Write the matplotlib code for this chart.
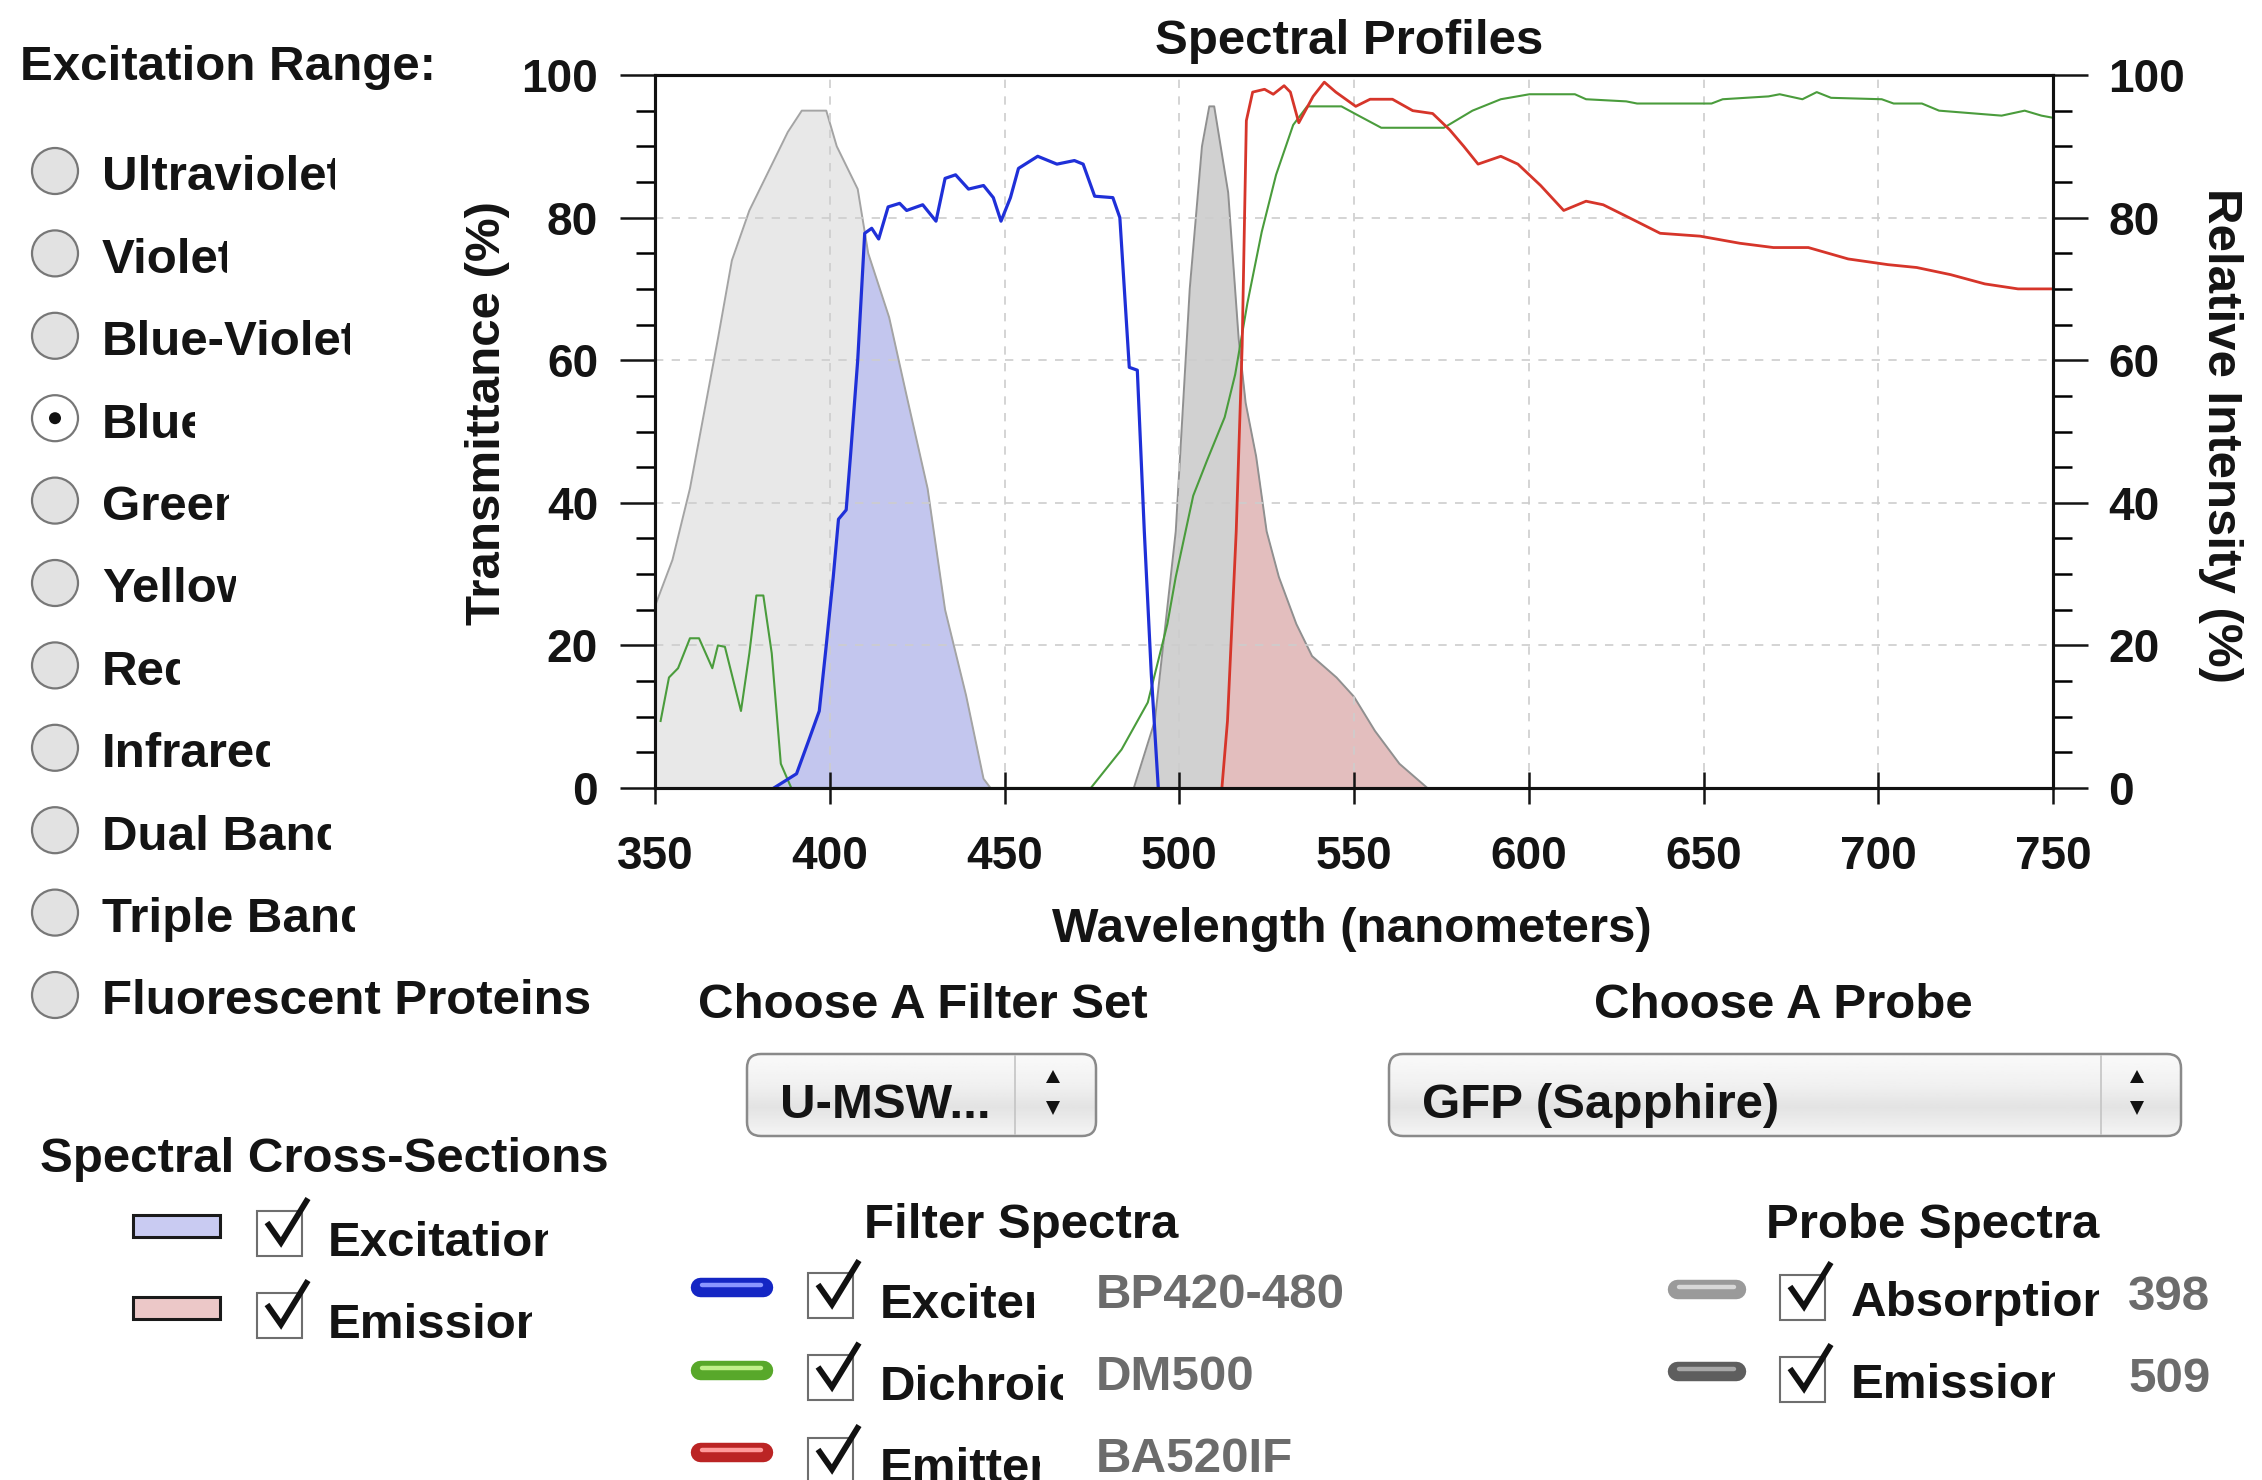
import numpy as np
import matplotlib
matplotlib.use('Agg')
import matplotlib.pyplot as plt
from matplotlib.patches import Circle, Rectangle, FancyBboxPatch, Polygon
from matplotlib.transforms import Bbox
from matplotlib.ticker import MultipleLocator

plt.rcParams['font.family'] = ['Liberation Sans', 'DejaVu Sans']
plt.rcParams['font.weight'] = 'bold'

# --- spectra (wavelength nm, percent) ---
abs_wl = [350, 355, 360, 364, 368, 372, 377, 383, 388, 392, 399, 402, 408, 411, 417,
          422, 428, 433, 439, 444, 446]
abs_val = [25.5, 32, 42, 52.5, 63, 74, 81, 87, 92, 95, 95, 90, 84, 75, 66,
           55, 42, 25, 13, 1.3, 0]

em_wl = [487, 493, 499, 503, 506.5, 508.6, 510, 514, 517, 519, 522, 525, 528.5, 533.5,
         538, 545, 550, 556, 563, 571]
em_val = [0, 9.4, 36, 70, 90, 95.6, 95.6, 83.5, 63, 54, 46.5, 36, 29.6, 23,
          18.5, 15.5, 12.8, 8, 3.4, 0]

ex_wl = [384, 390.5, 394, 397, 399, 401, 402.5, 404.7, 406, 408, 410, 412, 414, 416.7,
         420, 422, 426.6, 430.4, 433, 436, 439.7, 444, 446.8, 449, 451.7, 454, 459.5,
         465, 470, 472.5, 475.8, 481, 483, 485.7, 488, 490, 492, 494]
ex_val = [0, 2, 6.7, 10.8, 20, 29.6, 37.7, 39, 47, 60, 77.8, 78.5, 77, 81.5,
          82, 81, 81.8, 79.5, 85.5, 86, 84, 84.5, 82.8, 79.5, 82.8, 86.9, 88.6,
          87.5, 88, 87.5, 83, 82.8, 80, 59, 58.6, 36, 16, 0]

dm_wl = [351.6, 354, 356.6, 360, 362.6, 366.4, 368, 370, 374.6, 377, 379, 381, 383.4,
         386, 389, 474.7, 483.5, 491, 496.6, 499, 504, 508, 513, 516, 519.5, 523.6,
         527.7, 532.6, 536.6, 546.4, 551.3, 557.8, 575.7, 583.9, 592, 600.2, 613.2,
         616.4, 627.9, 631, 652.3, 655.5, 668.6, 671.8, 678.3, 682.4, 686.5, 701,
         704.4, 712.5, 717.4, 735.3, 741.9, 746.7, 750]
dm_val = [9.4, 15.5, 16.8, 21, 21, 16.8, 20, 19.8, 10.8, 18.9, 27, 27, 18.9,
          3.4, 0, 0, 5.4, 12, 23, 29.6, 41, 46, 52, 58, 68, 78,
          86, 93, 95.6, 95.6, 94.3, 92.6, 92.6, 95, 96.6, 97.3, 97.3,
          96.6, 96.3, 96, 96, 96.6, 97, 97.3, 96.6, 97.6, 96.8, 96.6,
          96, 96, 95, 94.3, 95, 94.3, 94]

ba_wl = [512.2, 513.8, 516.3, 518, 519.2, 521, 524.4, 526.9, 530, 531.8, 534.2, 538.3,
         541.5, 544.8, 550.5, 554.6, 561, 566.8, 572.5, 577.4, 581.4, 585.5, 592,
         596.9, 603.4, 610, 616.4, 621.3, 629.5, 637.6, 649, 660.4, 670, 680, 691.4,
         702.8, 711, 720.7, 730.5, 740, 750]
ba_val = [0, 9.4, 36, 62, 93.6, 97.6, 98, 97.3, 98.5, 97.6, 93.3, 97,
          99, 97.6, 95.6, 96.6, 96.6, 95, 94.6, 92.3, 90, 87.5, 88.6,
          87.5, 84.5, 81, 82.3, 81.8, 79.8, 77.8, 77.4, 76.4, 75.8, 75.8, 74.2,
          73.4, 73, 72, 70.7, 70, 70]

ranges = ['Ultraviolet', 'Violet', 'Blue-Violet', 'Blue', 'Green', 'Yellow', 'Red',
          'Infrared', 'Dual Band', 'Triple Band', 'Fluorescent Proteins']
selected = 'Blue'
filter_names = ['Exciter', 'Dichroic', 'Emitter']
filter_ids = ['BP420-480', 'DM500', 'BA520IF']
probe_names = ['Absorption', 'Emission']
probe_peaks = ['398', '509']
filter_set = 'U-MSW...'
probe = 'GFP (Sapphire)'

W, H = 2262, 1480
fig = plt.figure(figsize=(W / 100, H / 100), dpi=100)
fig.patch.set_facecolor('white')

# overlay in pixel coordinates (origin top-left)
ui = fig.add_axes([0, 0, 1, 1])
ui.set_xlim(0, W)
ui.set_ylim(H, 0)
ui.axis('off')

FS = 35.5      # panel text
FS_TICK = 33   # tick labels
clipped = []


def txt(x, y, s, ha='left', color='#141414', clip=False, **kw):
    t = ui.text(x, y, s, fontsize=kw.pop('size', FS), color=color, ha=ha,
                va=kw.pop('va', 'center_baseline'), fontweight='bold', **kw)
    if clip:
        clipped.append(t)
    return t


def checkbox(x0, yc, size=45):
    ui.add_patch(Rectangle((x0, yc - size / 2), size, size, fc='white', ec='#6e6e6e', lw=1.5))
    y0 = yc - size / 2
    ui.plot([x0 + 10, x0 + 24, x0 + 51], [y0 + 12, y0 + 32, y0 - 12], color='#111111',
            lw=4.2, solid_joinstyle='miter', solid_capstyle='butt')


def swatch(x1, x2, yc, dark, light):
    ui.plot([x1, x2], [yc, yc], color=dark, lw=14, solid_capstyle='round')
    ui.plot([x1 + 2, x2 - 2], [yc - 2, yc - 2], color=light, lw=3.2, solid_capstyle='round')


def dropdown(x0, x1, y0, y1, div_x, arr_x, label):
    box = FancyBboxPatch((x0, y0), x1 - x0, y1 - y0, boxstyle='round,pad=0,rounding_size=14',
                         fc='none', ec='#8a8a8a', lw=1.8, zorder=3)
    ui.add_patch(box)
    grad = np.interp(np.linspace(0, 1, 60), [0, 0.4, 0.65, 1], [0.98, 0.94, 0.89, 0.96]).reshape(-1, 1)
    im = ui.imshow(grad, cmap='gray', vmin=0, vmax=1, extent=(x0, x1, y1, y0),
                   aspect='auto', zorder=2, interpolation='bilinear')
    im.set_clip_path(box)
    ui.plot([div_x, div_x], [y0 + 2, y1 - 2], color='#c4c4c4', lw=1.2, zorder=3)
    ui.add_patch(Polygon([(arr_x - 7, 1083), (arr_x + 7, 1083), (arr_x, 1070)], fc='#111111', zorder=4))
    ui.add_patch(Polygon([(arr_x - 7, 1101), (arr_x + 7, 1101), (arr_x, 1115)], fc='#111111', zorder=4))
    txt(x0 + 33, 1101, label, zorder=4)


# --- left panel: radio buttons ---
txt(20, 62, 'Excitation Range:')
for i, name in enumerate(ranges):
    cy = 171 + 82.4 * i
    on = name == selected
    ui.add_patch(Circle((55, cy), 23, fc='white' if on else '#e2e2e2', ec='#777777', lw=1.6))
    if on:
        ui.add_patch(Circle((55, cy), 6, fc='#111111', ec='none'))
    txt(102, cy + 2, name, clip=i < len(ranges) - 1)

# --- spectral cross-sections legend ---
txt(40, 1155, 'Spectral Cross-Sections')
for yc, fc, name in [(1226, '#c9cbf2', 'Excitation'), (1308, '#ecc8c8', 'Emission')]:
    ui.add_patch(Rectangle((133, yc - 11), 87, 22, fc=fc, ec='#1a1a1a', lw=2.2))
    checkbox(257, yc + 7)
    txt(328, yc + 12, name, clip=True)

# --- filter / probe selectors ---
txt(1352, 925, 'Wavelength (nanometers)', ha='center')
txt(923, 1001, 'Choose A Filter Set', ha='center')
txt(1783, 1001, 'Choose A Probe', ha='center')
dropdown(747, 1096, 1054, 1136, 1015, 1053, filter_set)
dropdown(1389, 2181, 1054, 1136, 2101, 2137, probe)

txt(1021, 1220, 'Filter Spectra', ha='center')
filter_cols = [('#1426c4', '#8a96ff'), ('#58a82a', '#c0f08a'), ('#bb2424', '#ff9a9a')]
for i, (name, fid) in enumerate(zip(filter_names, filter_ids)):
    yc = 1287 + 82.5 * i
    swatch(700, 763, yc, *filter_cols[i])
    checkbox(808, yc + 8)
    txt(880, yc + 13, name, clip=True)
    txt(1096, yc + 3, fid, color='#6c6c6c')

txt(1933, 1220, 'Probe Spectra', ha='center')
probe_cols = [('#9a9a9a', '#d8d8d8'), ('#5e5e5e', '#a8a8a8')]
for i, (name, pk) in enumerate(zip(probe_names, probe_peaks)):
    yc = 1289 + 82 * i
    swatch(1677, 1736, yc, *probe_cols[i])
    checkbox(1780, yc + 8)
    txt(1851, yc + 10, name, clip=True)
    txt(2128, yc + 3, pk, color='#6c6c6c')

# --- axis titles ---
txt(1349, 36, 'Spectral Profiles', ha='center')
txt(487, 413, 'Transmittance (%)', ha='center', va='center', rotation=90)
txt(2221, 435, 'Relative Intensity (%)', ha='center', va='center', rotation=-90)

# --- main chart ---
ax = fig.add_axes([655 / W, 1 - 788 / H, (2053 - 655) / W, (788 - 75) / H])
ax.set_xlim(350, 750)
ax.set_ylim(0, 100)

wl = np.linspace(350, 750, 1601)
absorb = np.interp(wl, abs_wl, abs_val, left=0, right=0)
emiss = np.interp(wl, em_wl, em_val, left=0, right=0)
exciter = np.interp(wl, ex_wl, ex_val, left=0, right=0)
emitter = np.interp(wl, ba_wl, ba_val, left=0, right=0)

ax.fill_between(abs_wl, abs_val, color='#e8e8e8', lw=0, zorder=1)
ax.fill_between(em_wl, em_val, color='#d1d1d1', lw=0, zorder=1)
ax.fill_between(wl, np.minimum(exciter, absorb), color='#c3c6ee', lw=0, zorder=1.5)
ax.fill_between(wl, np.minimum(emitter, emiss), color='#e3bebe', lw=0, zorder=1.5)
ax.plot(abs_wl, abs_val, color='#a4a4a4', lw=1.4, zorder=2)
ax.plot(em_wl, em_val, color='#909090', lw=1.4, zorder=2)

ax.plot(dm_wl, dm_val, color='#4a9c3c', lw=1.5, zorder=3)
ax.plot(ba_wl, ba_val, color='#d6352a', lw=2.0, zorder=3)
ax.plot(ex_wl, ex_val, color='#1f30d8', lw=2.3, zorder=3)

ax.grid(True, which='major', color='#cdcdcd', ls=(0, (5, 5)), lw=1.2)
ax.set_axisbelow(False)
ax.xaxis.set_major_locator(MultipleLocator(50))
ax.yaxis.set_major_locator(MultipleLocator(20))
ax.yaxis.set_minor_locator(MultipleLocator(5))
ax.tick_params(axis='x', direction='inout', length=23, width=1.8, pad=22, labelsize=FS_TICK,
               colors='#141414')
ax.tick_params(axis='y', which='major', direction='out', length=25, width=1.8, pad=16,
               labelsize=FS_TICK, colors='#141414')
ax.tick_params(axis='y', which='minor', direction='out', length=14, width=1.8)
ax.tick_params(top=False, right=False)

ax2 = ax.twinx()
ax2.set_ylim(0, 100)
ax2.yaxis.set_major_locator(MultipleLocator(20))
ax2.yaxis.set_minor_locator(MultipleLocator(5))
ax2.tick_params(axis='y', which='major', direction='out', length=25, width=1.8, pad=15,
                labelsize=FS_TICK, colors='#141414')
ax2.tick_params(axis='y', which='minor', direction='out', length=14, width=1.8)

for a in (ax, ax2):
    for sp in a.spines.values():
        sp.set_linewidth(2.2)
        sp.set_color('#111111')
        sp.set_zorder(5)

# clip the last letter of the widget labels, like the cramped originals
r = fig.canvas.get_renderer()
for t in clipped:
    s = t.get_text()
    fp = t.get_fontproperties()
    wf = r.get_text_width_height_descent(s, fp, ismath=False)[0]
    wp = r.get_text_width_height_descent(s[:-1], fp, ismath=False)[0]
    bb = t.get_window_extent(r)
    t.set_clip_path(None)
    t.set_clip_box(Bbox.from_extents(bb.x0 - 20, bb.y0 - 30, bb.x1 - 0.5 * (wf - wp), bb.y1 + 30))
    t.set_clip_on(True)

fig.savefig('out.png', dpi=100, facecolor='white')
